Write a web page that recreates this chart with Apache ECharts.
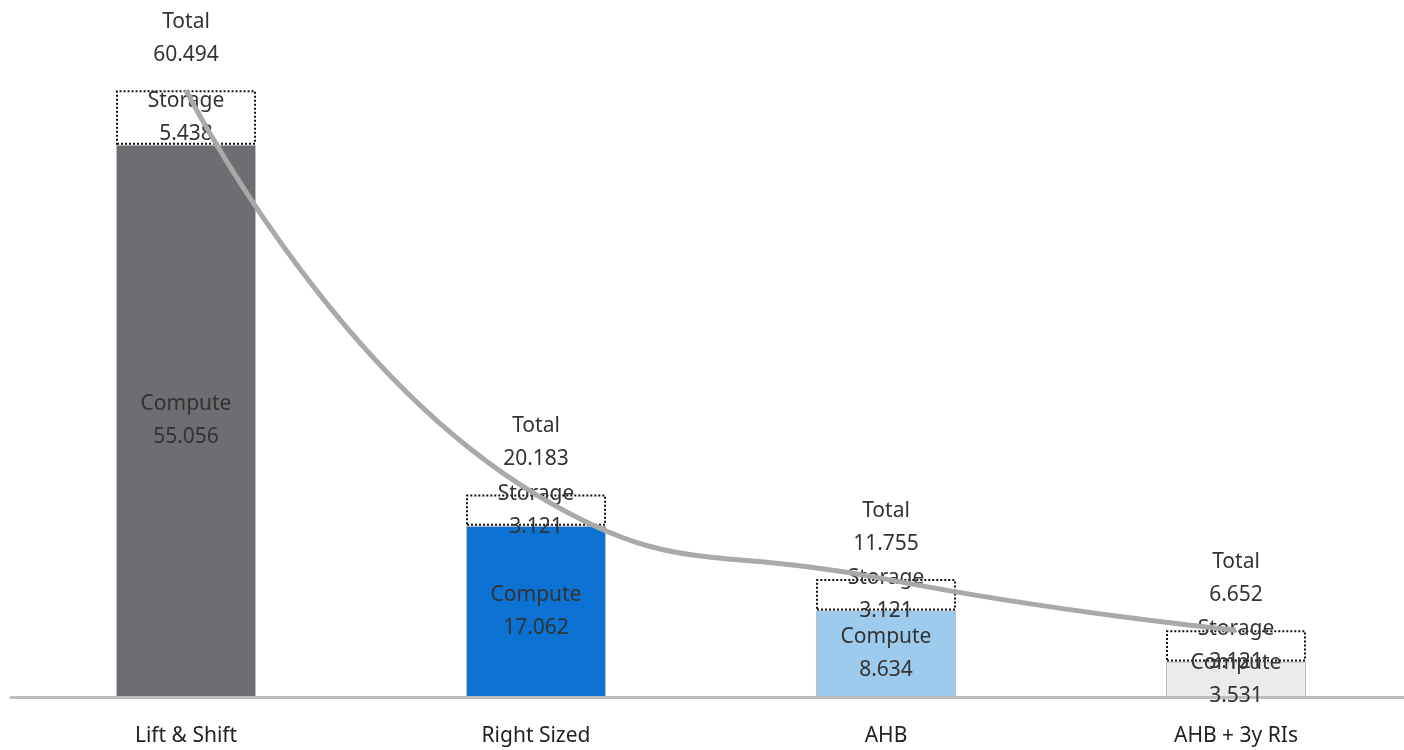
<!DOCTYPE html>
<html><head><meta charset="utf-8">
<script src="https://cdn.jsdelivr.net/npm/echarts@6/dist/echarts.min.js"></script>
<style>html,body{margin:0;padding:0;background:#fff;overflow:hidden;width:1404px;height:750px}#c{width:1412px;height:750px}</style>
</head><body><div id="c"></div>
<script>
const categories = ['Lift & Shift', 'Right Sized', 'AHB', 'AHB + 3y RIs'];
const compute = [55.056, 17.062, 8.634, 3.531];
const storage = [5.438, 3.121, 3.121, 3.121];
const total = [60.494, 20.183, 11.755, 6.652];
const computeColors = ['#6e6d72', '#0b72d3', '#9ccbee', '#ebebeb'];

const FONT = '"Noto Sans", sans-serif';
const chart = echarts.init(document.getElementById('c'));
chart.setOption({
  animation: false,
  grid: { left: 11, width: 1400, top: 45, bottom: 53 },
  xAxis: {
    type: 'category', data: categories,
    axisLine: { lineStyle: { color: '#bdbdbd', width: 3 } },
    axisTick: { show: false },
    axisLabel: { fontFamily: FONT, fontSize: 21, color: '#222', margin: 29 }
  },
  yAxis: { type: 'value', min: 0, max: 65, show: false, splitLine: { show: false } },
  series: [
    {
      type: 'bar', stack: 's', barWidth: 140,
      data: compute.map((v, i) => ({ value: v, itemStyle: { color: computeColors[i] } })),
      itemStyle: { borderColor: '#bdbdbd', borderWidth: 1 },
      label: { show: true, position: 'inside', formatter: p => 'Compute\n' + p.value.toFixed(3),
        fontFamily: FONT, fontSize: 21, lineHeight: 33, color: '#333' }
    },
    {
      type: 'bar', stack: 's', barWidth: 140,
      data: storage,
      itemStyle: { color: '#ffffff', borderColor: '#111', borderWidth: 2, borderType: 'dotted' },
      label: { show: true, position: 'inside', formatter: p => 'Storage\n' + p.value.toFixed(3),
        fontFamily: FONT, fontSize: 21, lineHeight: 33, color: '#333' }
    },
    {
      type: 'line', data: total, smooth: 0.5,
      symbol: 'circle', symbolSize: 0, showSymbol: true,
      lineStyle: { color: '#a9a9a9', width: 5 },
      itemStyle: { color: '#a9a9a9' },
      label: { show: true, position: 'top', distance: 19, formatter: p => 'Total\n' + p.value.toFixed(3),
        fontFamily: FONT, fontSize: 21, lineHeight: 33, color: '#333' },
      z: 3
    }
  ]
});
</script></body></html>
